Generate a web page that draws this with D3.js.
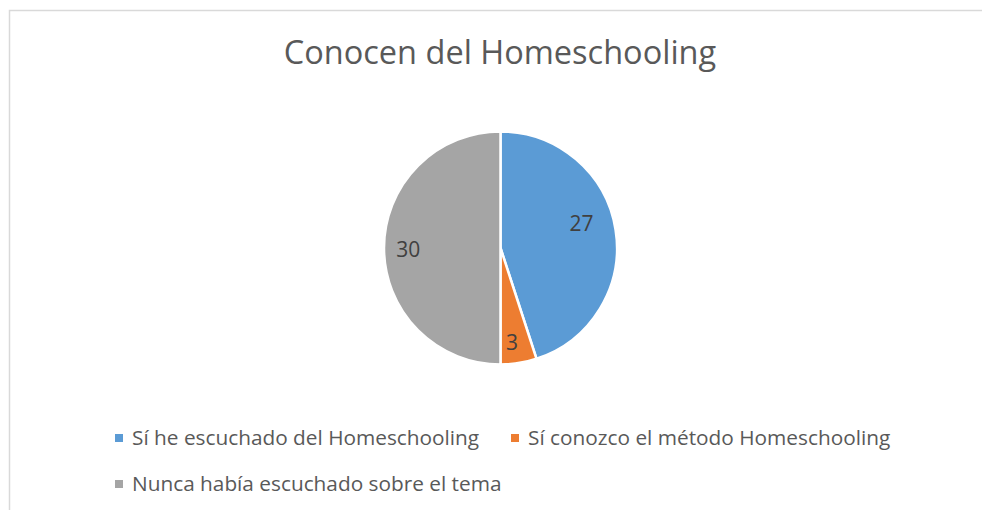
<!DOCTYPE html>
<html>
<head>
<meta charset="utf-8">
<script src="https://cdn.jsdelivr.net/npm/d3@7"></script>
<style>
  body { margin: 0; background: #fff; }
  text { font-family: "Open Sans", sans-serif; }
</style>
</head>
<body>
<script>
var w = 982;
var h = 510;

// chart data
var categories = ["Sí he escuchado del Homeschooling", "Sí conozco el método Homeschooling", "Nunca había escuchado sobre el tema"];
var values = [27, 3, 30];
var colors = ["#5B9BD5", "#ED7D31", "#A5A5A5"];
var title = "Conocen del Homeschooling";

var svg = d3.select("body")
    .append("svg")
    .attr("width", w)
    .attr("height", h);

// chart frame (only top and left edges are visible)
svg.append("path")
    .attr("d", "M9.5,510 V10.5 H982")
    .attr("fill", "none")
    .attr("stroke", "#d9d9d9")
    .attr("stroke-width", 1.5);

svg.append("text")
    .attr("x", 500)
    .attr("y", 64)
    .attr("text-anchor", "middle")
    .attr("fill", "#595959")
    .style("font-size", "32.5px")
    .text(title);

var cx = 500.5, cy = 248, r = 116.5;

var pie = d3.pie().sort(null).value(function (d) { return d; });
var arc = d3.arc().innerRadius(0).outerRadius(r);
var labelArc = d3.arc().innerRadius(r * 0.8).outerRadius(r * 0.8);
// small tweaks so labels sit where Excel's best-fit put them
var nudge = [[-11, -10], [-3, 3], [1, 2]];

var g = svg.append("g").attr("transform", "translate(" + cx + "," + cy + ")");
var arcs = pie(values);

g.selectAll("path")
    .data(arcs)
    .enter()
    .append("path")
    .attr("d", arc)
    .attr("fill", function (d, i) { return colors[i]; })
    .attr("stroke", "#fff")
    .attr("stroke-width", 2.5);

g.selectAll("text")
    .data(arcs)
    .enter()
    .append("text")
    .attr("transform", function (d, i) {
        var c = labelArc.centroid(d);
        return "translate(" + (c[0] + nudge[i][0]) + "," + (c[1] + nudge[i][1]) + ")";
    })
    .attr("text-anchor", "middle")
    .attr("dy", "0.35em")
    .attr("fill", "#404040")
    .style("font-size", "21px")
    .text(function (d) { return d.data; });

// legend
var legendPos = [[115, 438], [511, 438], [115, 484]];
var leg = svg.selectAll("g.leg")
    .data(categories)
    .enter()
    .append("g")
    .attr("class", "leg")
    .attr("transform", function (d, i) { return "translate(" + legendPos[i][0] + "," + legendPos[i][1] + ")"; });

leg.append("rect")
    .attr("x", 0)
    .attr("y", -4)
    .attr("width", 8)
    .attr("height", 8)
    .attr("fill", function (d, i) { return colors[i]; });

leg.append("text")
    .attr("x", 17)
    .attr("dy", "0.35em")
    .attr("fill", "#595959")
    .style("font-size", "20.8px")
    .text(function (d) { return d; });
</script>
</body>
</html>
